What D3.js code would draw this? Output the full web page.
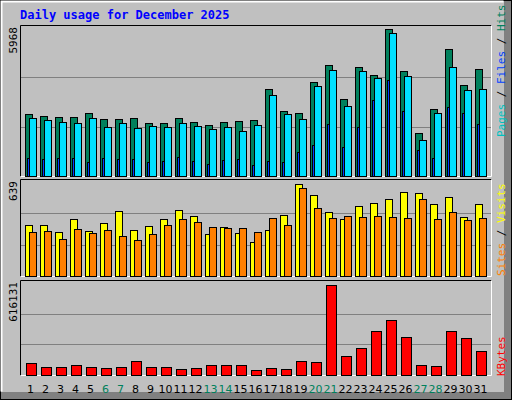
<!DOCTYPE html>
<html><head><meta charset="utf-8">
<script src="https://cdn.jsdelivr.net/npm/d3@7"></script>
<style>body{margin:0;background:#fff}svg{display:block}</style>
</head><body>
<script>
const days = d3.range(1, 32);
const weekend = [6,7,13,14,20,21,27,28];
const hits  = [2505,2425,2385,2385,2545,2304,2304,2344,2143,2143,2344,2184,2063,2184,2224,2264,3510,2626,2545,3791,4474,3108,4394,4072,5921,4233,1741,2706,5117,3670,4313];
const files = [2344,2264,2184,2143,2344,1983,2143,1942,2023,1983,2143,2023,1902,1983,1822,2063,3268,2505,2304,3630,4273,2826,4233,3952,5760,4032,1460,2545,4394,3469,3510];
const pages = [737,697,737,737,576,737,697,697,576,616,777,616,496,656,697,455,616,576,978,1259,2103,1179,1983,3068,3871,2626,1058,737,2786,2545,2103];
const visits = [344,344,297,385,304,358,440,310,338,385,446,406,283,331,290,229,310,412,623,548,433,385,474,494,521,569,562,487,535,399,487];
const sites  = [297,304,249,317,290,310,270,242,283,344,385,365,331,324,324,297,392,344,596,460,392,406,399,406,399,392,521,385,433,378,392];
const kbytes = [80845,50255,50255,67735,50255,43700,50255,93955,50255,56810,37145,43700,67735,67735,67735,30590,43700,37145,93955,87400,600875,126730,179170,292790,369265,257830,67735,61180,292790,244720,159505];
const maxHits = 5968, maxSites = 639, maxKB = 616131;

const W = 512, H = 400;
const svg = d3.select("body").append("svg").attr("width", W).attr("height", H);
const font = "DejaVu Sans Mono, monospace";

// frame
svg.append("rect").attr("width", W).attr("height", H).attr("fill", "#c0c0c0");
svg.append("rect").attr("x", 0.5).attr("y", 0.5).attr("width", W - 1).attr("height", H - 1).attr("fill", "none").attr("stroke", "#000");
svg.append("rect").attr("x", 504).attr("y", 1).attr("width", 7).attr("height", 398).attr("fill", "#808080");
svg.append("rect").attr("x", 1).attr("y", 392).attr("width", 510).attr("height", 7).attr("fill", "#808080");
svg.append("path").attr("d", "M1.5,391.5V1.5H503.5").attr("fill", "none").attr("stroke", "#fff").attr("stroke-width", 2);

svg.append("text").attr("x", 20).attr("y", 19).attr("fill", "#0000ff").attr("font-family", font)
  .attr("font-weight", "bold").attr("font-size", 12).text("Daily usage for December 2025");

const x = d3.scaleLinear().domain([1, 32]).range([25, 25 + 31 * 15]);

function panel(y0, y1, max, label) {
  const y = d3.scaleLinear().domain([0, max]).range([y1, y0 + 3]);
  const g = svg.append("g");
  g.append("path").attr("d", `M20.5,${y1 + 0.5}V${y0 + 0.5}H491.5`).attr("stroke", "#000").attr("fill", "none");
  g.append("path").attr("d", `M491.5,${y0 + 0.5}V${y1 + 0.5}H20.5`).attr("stroke", "#fff").attr("fill", "none");
  [1, 2].forEach(k => {
    const yy = Math.round(y(max * k / 3)) + 0.5;
    g.append("line").attr("x1", 21).attr("x2", 491).attr("y1", yy).attr("y2", yy).attr("stroke", "#808080");
  });
  g.append("text").attr("transform", `translate(17,${y0 + 2}) rotate(-90)`).attr("text-anchor", "end")
    .attr("font-family", font).attr("font-size", 11).attr("fill", "#000").text(label);
  return y;
}

function bars(y, data, off, w, color) {
  svg.append("g").selectAll("rect").data(data).join("rect")
    .attr("x", (d, i) => x(i + 1) + off + 0.5)
    .attr("y", d => Math.round(y(d)) + 0.5)
    .attr("width", w)
    .attr("height", d => Math.round(y(0)) - Math.round(y(d)))
    .attr("fill", color).attr("stroke", "#000");
}

const y1 = panel(25, 176, maxHits, "5968");
bars(y1, hits, 0, 7, "#00805c");
bars(y1, pages, 2, 2, "#0040ff");
bars(y1, files, 4, 7, "#00e0ff");

const y2 = panel(179, 276, maxSites, "639");
bars(y2, visits, 0, 7, "#ffff00");
bars(y2, sites, 4, 7, "#ff8000");

const y3 = panel(280, 375, maxKB, "616131");
bars(y3, kbytes, 1, 10, "#ff0000");

// right-side labels
function sideLabel(yBottom, parts) {
  const t = svg.append("text").attr("transform", `translate(505,${yBottom}) rotate(-90)`)
    .attr("font-family", font).attr("font-size", 11);
  parts.forEach(([s, c]) => t.append("tspan").attr("fill", c).text(s));
}
sideLabel(137, [["Pages", "#00c0c0"], [" / ", "#000"], ["Files", "#0040ff"], [" / ", "#000"], ["Hits", "#00805c"]]);
sideLabel(276, [["Sites", "#ff8000"], [" / ", "#000"], ["Visits", "#ffff00"]]);
sideLabel(376, [["KBytes", "#ff0000"]]);

// day labels
svg.append("g").selectAll("text").data(days).join("text")
  .attr("x", d => x(d) + 5.5).attr("y", 393).attr("text-anchor", "middle")
  .attr("font-family", "DejaVu Sans, sans-serif").attr("font-size", 11)
  .attr("fill", d => weekend.includes(d) ? "#00805c" : "#000").text(d => d);
</script>
</body></html>
